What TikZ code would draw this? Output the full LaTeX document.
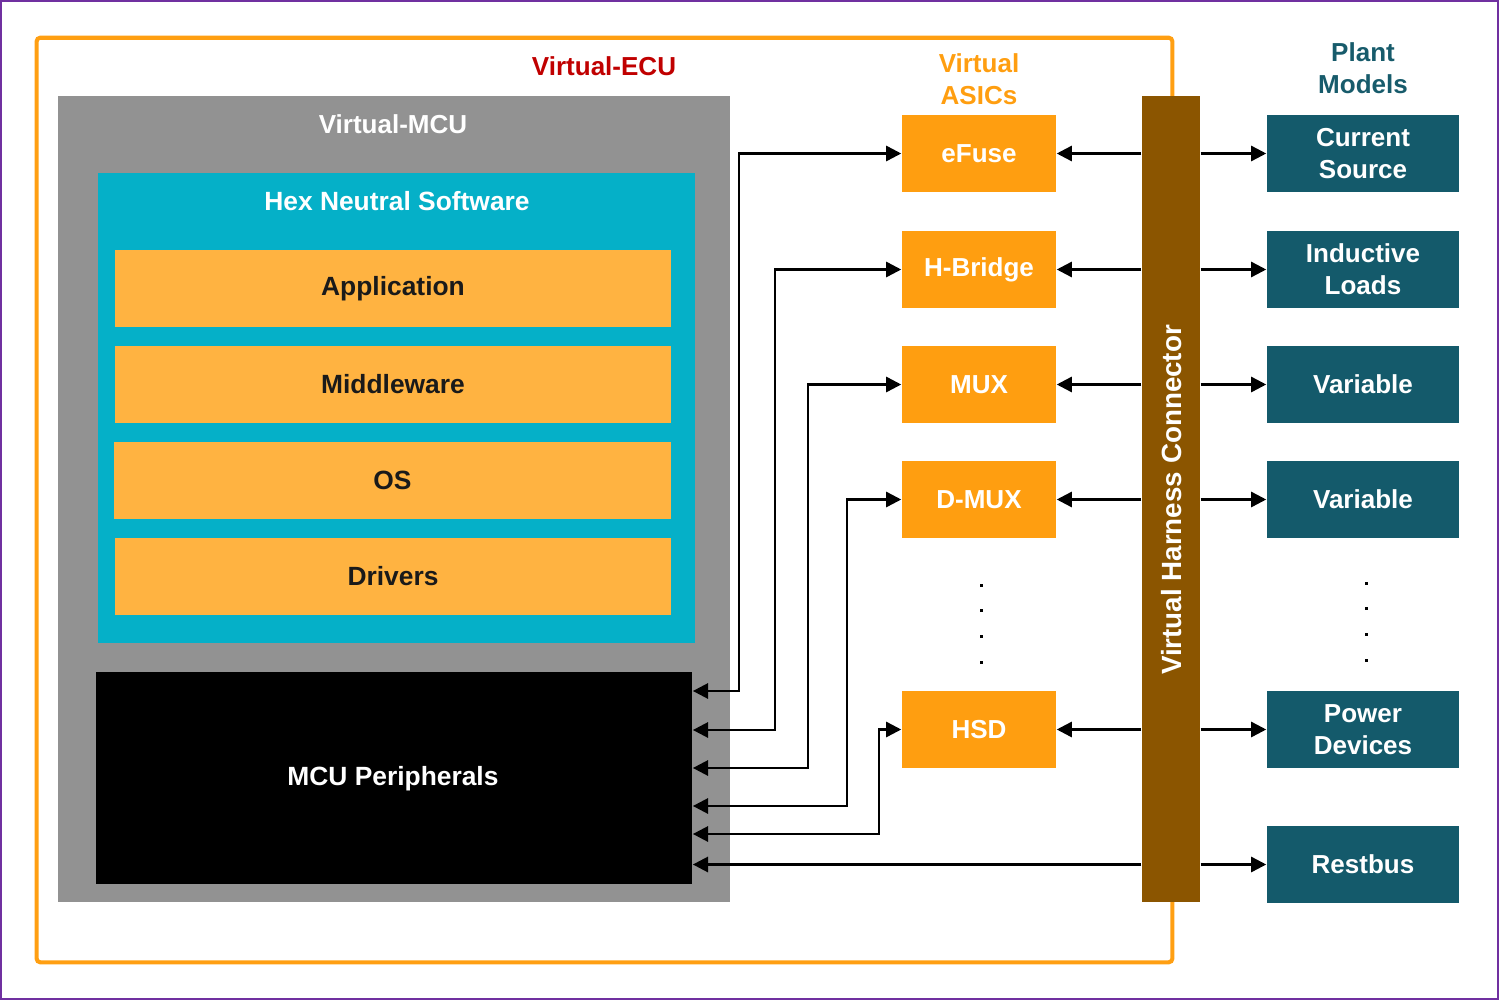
\documentclass[tikz,border=0pt]{standalone}
\usepackage{fontspec}
\setmainfont{Liberation Sans}
\usetikzlibrary{arrows.meta}
\definecolor{framepurple}{HTML}{7030A0}
\definecolor{ecuorange}{HTML}{FF9F12}
\definecolor{mcugray}{HTML}{929292}
\definecolor{swcyan}{HTML}{05B0C8}
\definecolor{layerorange}{HTML}{FFB341}
\definecolor{layertext}{HTML}{1A1A1A}
\definecolor{asicorange}{HTML}{FF9E10}
\definecolor{harnessbrown}{HTML}{8B5500}
\definecolor{plantteal}{HTML}{145A6B}
\definecolor{planttext}{HTML}{175B6B}
\definecolor{ecured}{HTML}{C00000}
\begin{document}
\begin{tikzpicture}[x=0.01cm,y=-0.01cm,
  lbl/.style={inner sep=0pt, align=center, font=\bfseries\fontsize{7.4}{9.1}\selectfont},
  box/.style={lbl, draw=none},
  layer/.style={box, fill=layerorange, text=layertext, minimum width=5.56cm, minimum height=0.77cm,
     font=\bfseries\fontsize{7.5}{9}\selectfont},
  asic/.style={box, fill=asicorange, text=white, minimum width=1.54cm, minimum height=0.77cm},
  plant/.style={box, fill=plantteal, text=white, minimum width=1.92cm, minimum height=0.77cm},
  conn/.style={line width=0.7pt, {Triangle[length=4.3pt,width=4.3pt]}-{Triangle[length=4.3pt,width=4.3pt]}},
  one/.style={line width=0.7pt, -{Triangle[length=4.3pt,width=4.3pt]}},
  dot/.style={fill=black}]
\useasboundingbox (0,0) rectangle (1499,1000);
\draw[framepurple, line width=0.6pt] (1,1) rectangle (1498,999);
% Virtual ECU frame
\node[draw=ecuorange, line width=1.15pt, rounded corners=1pt, minimum width=11.35cm, minimum height=9.24cm, inner sep=0pt] (ecu) at (604.5,500) {};
\node[lbl, text=ecured] (ecul) at (604,66) {Virtual-ECU};
% Virtual MCU
\node[box, fill=mcugray, minimum width=6.72cm, minimum height=8.06cm] (vmcu) at (394,499) {};
\node[lbl, text=white] (vmcul) at (393,124) {Virtual-MCU};
\node[box, fill=swcyan, minimum width=5.97cm, minimum height=4.70cm] (hex) at (396.5,408) {};
\node[lbl, text=white, font=\bfseries\fontsize{7.5}{9}\selectfont] (hexl) at (397,201) {Hex Neutral Software};
\node[layer] (app) at (393,288.5) {Application};
\node[layer] (mid) at (393,384.5) {Middleware};
\node[layer] (os) at (392.5,480.5) {OS};
\node[layer] (drv) at (393,576.5) {Drivers};
\node[box, fill=black, minimum width=5.96cm, minimum height=2.12cm] (mcu) at (394,778) {};
\node[lbl, text=white, font=\bfseries\fontsize{7.5}{9}\selectfont] (mcul) at (393,779) {MCU Peripherals};
% Virtual ASICs
\node[lbl, text=asicorange] (asicl) at (979,79) {Virtual\\ASICs};
\node[asic] (efuse) at (979,153.5) {eFuse};
\node[asic] (hb) at (979,269.5) {H-Bridge};
\node[asic] (mux) at (979,384.5) {MUX};
\node[asic] (dmux) at (979,499.5) {D-MUX};
\node[asic] (hsd) at (979,729.5) {HSD};
% Harness
\node[box, fill=harnessbrown, minimum width=0.58cm, minimum height=8.06cm] (harness) at (1171,499) {};
\node[lbl, text=white, rotate=90, font=\bfseries\fontsize{7.9}{9}\selectfont] (harnessl) at (1172,500) {Virtual Harness Connector};
% Plant models
\node[lbl, text=planttext] (plantl) at (1363,68) {Plant\\Models};
\node[plant] (cs) at (1363,153.5) {Current\\Source};
\node[plant] (ind) at (1363,269.5) {Inductive\\Loads};
\node[plant] (var1) at (1363,384.5) {Variable};
\node[plant] (var2) at (1363,499.5) {Variable};
\node[plant] (pow) at (1363,729.5) {Power\\Devices};
\node[plant] (rb) at (1363,864.5) {Restbus};
% dots
\foreach \y in {585,610,636,662} \fill[dot] (979.5,\y-1.5) rectangle +(3,3);
\foreach \y in {583,608,634,660} \fill[dot] (1364.5,\y-1.5) rectangle +(3,3);
% MCU to ASIC connectors
\draw[conn] (efuse.west) -- ++(-162,0) |- (mcu.east |- 0,691);
\draw[conn] (hb.west) -- ++(-126,0) |- (mcu.east |- 0,730);
\draw[conn] (mux.west) -- ++(-93,0) |- (mcu.east |- 0,768);
\draw[conn] (dmux.west) -- ++(-54,0) |- (mcu.east |- 0,806);
\draw[conn] (hsd.west) -- ++(-22,0) |- (mcu.east |- 0,834);
\draw[one] (harness.west |- rb.west) -- (mcu.east |- rb.west);
% Harness to ASICs
\foreach \n in {efuse,hb,mux,dmux,hsd} \draw[one] (harness.west |- \n.east) -- (\n.east);
% Harness to plant
\foreach \n in {cs,ind,var1,var2,pow,rb} \draw[one] (harness.east |- \n.west) -- (\n.west);
\end{tikzpicture}
\end{document}
